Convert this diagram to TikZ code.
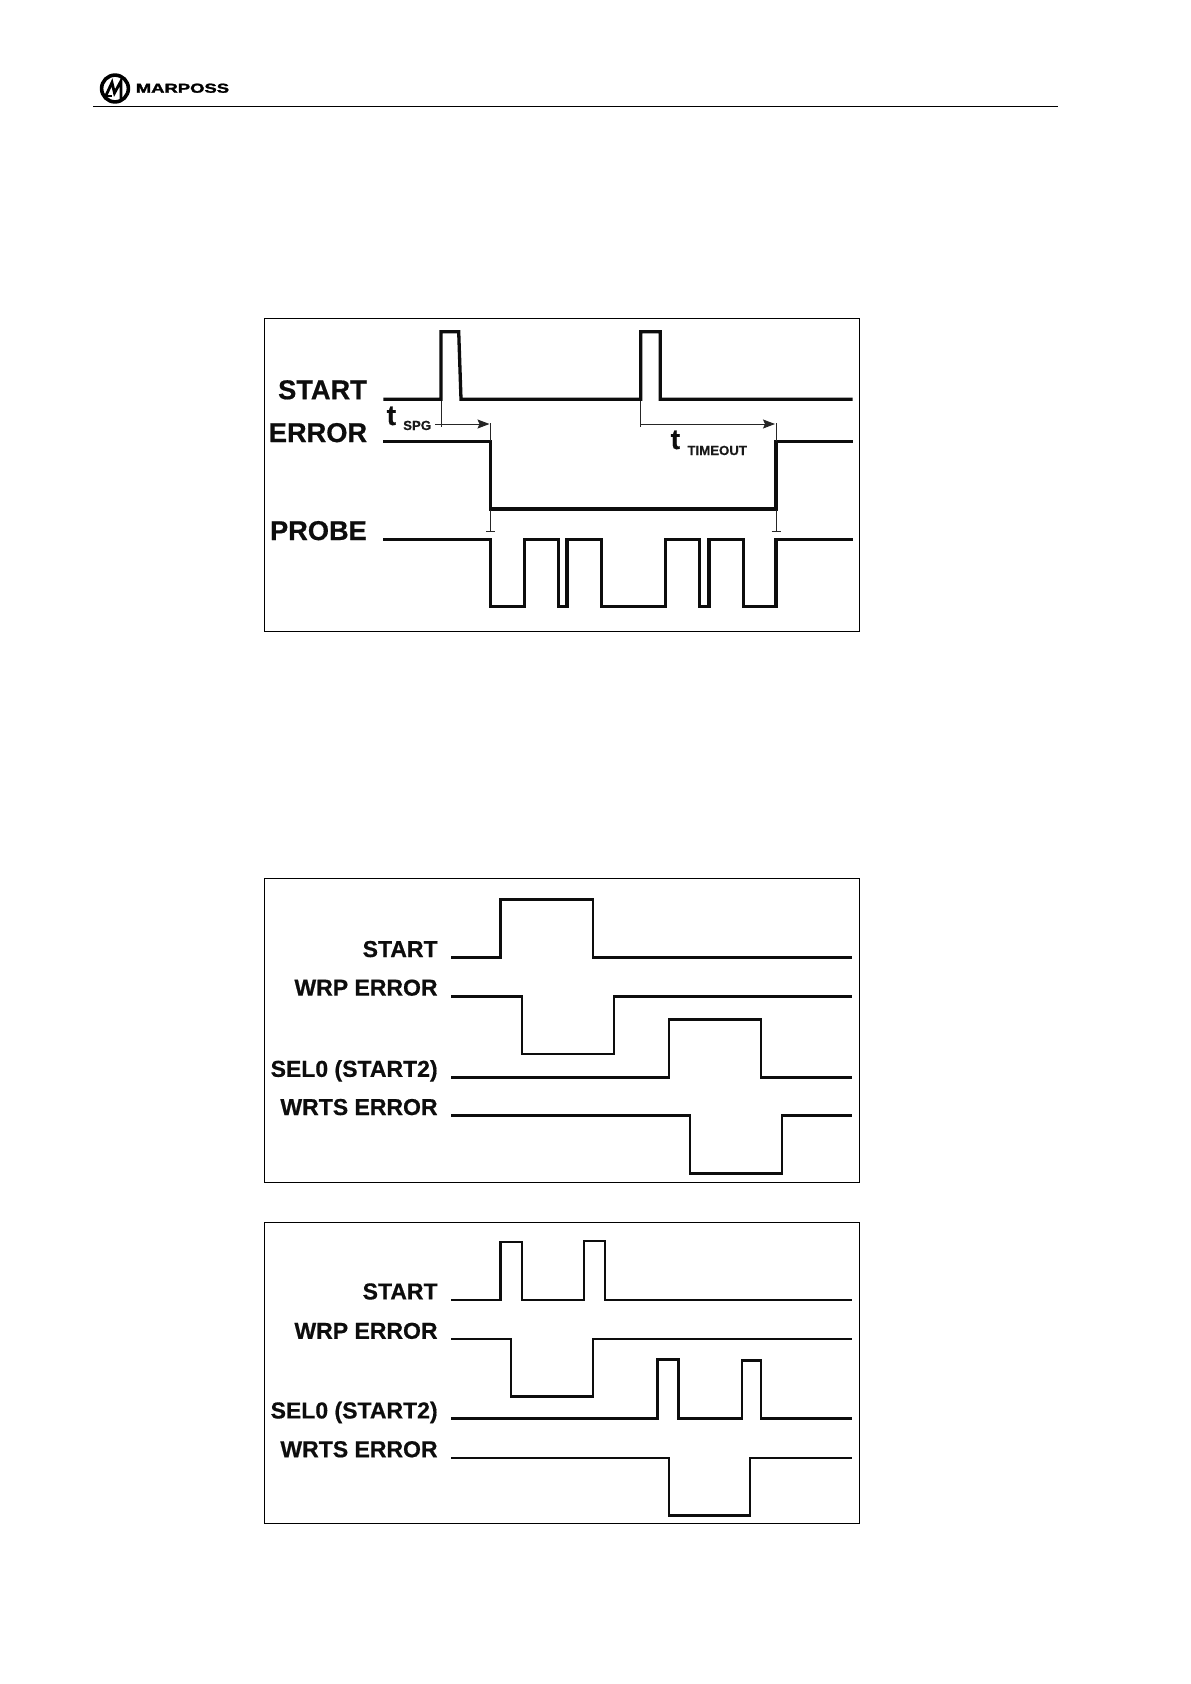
\documentclass[tikz,border=0pt]{standalone}
\usepackage{fontspec}
\setmainfont[BoldFeatures={FakeBold=0.6}]{Liberation Sans}
\newfontfamily\logofont[BoldFeatures={FakeBold=1.6}]{Liberation Sans}
\usetikzlibrary{arrows.meta}
\tikzset{
  panel/.style={draw=black,line width=1.3pt,fill=white},
  thicksig/.style={line width=3.3pt,line join=miter,color=black!95},
  sig/.style={line width=2.6pt,line join=miter,color=black!95},
  dim/.style={line width=1pt,color=black!85},
  dimarrow/.style={dim,-{Stealth[length=12pt,width=9pt,inset=2pt]}},
  biglabel/.style={anchor=base east,inner sep=0pt,font=\fontsize{27.2}{30}\selectfont\bfseries,color=black!95},
  siglabel/.style={anchor=base east,inner sep=0pt,font=\fontsize{23}{26}\selectfont\bfseries,color=black!95},
  tlabel/.style={anchor=base west,inner sep=0pt,font=\fontsize{28}{30}\selectfont\bfseries,color=black!95},
  sublabel/.style={anchor=base west,inner sep=0pt,font=\fontsize{13.2}{15}\selectfont\bfseries,color=black!90},
  logotext/.style={anchor=base west,inner sep=0pt,xscale=1.42,font=\logofont\fontsize{13}{15}\selectfont\bfseries}
}
\begin{document}
\begin{tikzpicture}[x=1pt,y=-1pt]
\useasboundingbox (0,0) rectangle (1191,1684);
\fill[white] (0,0) rectangle (1191,1684);
% header
\draw[line width=1.2pt] (93,106.3) -- (1058,106.3);
\draw[line width=3.6pt] (115,88.5) circle (13.4);
\draw[line width=2.8pt,line join=miter] (106,95.5) -- (112,82.5) -- (114.5,93) -- (121,81) -- (121,101);
\fill (105,94.5) rectangle (112,96.5);
\node[logotext] (logo) at (135.5,92.7) {MARPOSS};
% panel 1
\draw[panel] (264.4,318.3) rectangle (859.7,631.3);
\node[biglabel] (a1) at (367,399.2) {START};
\node[biglabel] (a2) at (367.3,442) {ERROR};
\node[biglabel] (a3) at (367,540) {PROBE};
\draw[thicksig] (383.3,399.3) -- (441,399.3) -- (441,331.7) -- (458.7,331.7) -- (461,399.3) -- (640.7,399.3) -- (640.7,331.7) -- (660.3,331.7) -- (660.3,399.3) -- (852.7,399.3);
\draw[thicksig] (383.3,441.7) -- (490.7,441.7) -- (490.7,509) -- (776,509) -- (776,441.7) -- (852.7,441.7);
\draw[thicksig] (383.3,539.3) -- (490.7,539.3) -- (490.7,606.7) -- (524.3,606.7) -- (524.3,539.3) -- (558.7,539.3) -- (558.7,606.7) -- (567,606.7) -- (567,539.3) -- (601.3,539.3) -- (601.3,606.7) -- (665.7,606.7) -- (665.7,539.3) -- (699.7,539.3) -- (699.7,606.7) -- (709,606.7) -- (709,539.3) -- (743.3,539.3) -- (743.3,606.7) -- (776,606.7) -- (776,539.3) -- (852.7,539.3);
% dimension lines
\coordinate (s1) at (441,401);
\coordinate (s1b) at (441,427);
\coordinate (s1a) at (435.3,424);
\coordinate (e1) at (489.5,424);
\coordinate (e1t) at (490.7,423);
\coordinate (e1b) at (490.7,441);
\coordinate (l1t) at (490.7,510);
\coordinate (l1b) at (490.7,531.7);
\coordinate (s2) at (640.7,401);
\coordinate (s2b) at (640.7,427);
\coordinate (e2) at (775,424);
\coordinate (e2t) at (776,423);
\coordinate (e2b) at (776,441);
\coordinate (l2t) at (776,510);
\coordinate (l2b) at (776,531.7);
\draw[dim] (s1) -- (s1b);
\draw[dimarrow] (s1a) -- (e1);
\draw[dim] (e1t) -- (e1b);
\draw[dim] (l1t) -- (l1b);
\draw[dim] ([xshift=-4.5pt]l1b) -- ([xshift=4.5pt]l1b);
\draw[dim] (s2) -- (s2b);
\draw[dimarrow] (s2b |- s1a) -- (e2);
\draw[dim] (e2t) -- (e2b);
\draw[dim] (l2t) -- (l2b);
\draw[dim] ([xshift=-4.5pt]l2b) -- ([xshift=4.5pt]l2b);
\node[tlabel] (t1) at (386.5,425) {t};
\node[sublabel] (t1s) at (403,430) {SPG};
\node[tlabel] (t2) at (670.5,449) {t};
\node[sublabel] (t2s) at (687.3,455) {TIMEOUT};
% panel 2
\draw[panel] (264.4,878.3) rectangle (859.7,1182.3);
\node[siglabel] (b1) at (437.8,957) {START};
\node[siglabel] (b2) at (437.8,995.6) {WRP ERROR};
\node[siglabel] (b3) at (437.8,1076.8) {SEL0 (START2)};
\node[siglabel] (b4) at (437.8,1115) {WRTS ERROR};
\draw[sig] (451.4,957.3) -- (500.5,957.3) -- (500.5,899.3) -- (593,899.3) -- (593,957.3) -- (851.8,957.3);
\draw[sig] (451.4,996.3) -- (521.8,996.3) -- (521.8,1054) -- (613.9,1054) -- (613.9,996.3) -- (851.8,996.3);
\draw[sig] (451.4,1077.3) -- (668.8,1077.3) -- (668.8,1019.7) -- (761,1019.7) -- (761,1077.3) -- (851.8,1077.3);
\draw[sig] (451.4,1115.7) -- (689.8,1115.7) -- (689.8,1173.7) -- (781.9,1173.7) -- (781.9,1115.7) -- (851.8,1115.7);
% panel 3
\draw[panel] (264.4,1222.3) rectangle (859.7,1523.3);
\node[siglabel] (c1) at (437.8,1299.4) {START};
\node[siglabel] (c2) at (437.8,1338.8) {WRP ERROR};
\node[siglabel] (c3) at (437.8,1418.4) {SEL0 (START2)};
\node[siglabel] (c4) at (437.8,1457.2) {WRTS ERROR};
\draw[sig] (451.4,1300) -- (500.5,1300) -- (500.5,1242) -- (521.8,1242) -- (521.8,1300) -- (583.9,1300) -- (583.9,1241) -- (604.8,1241) -- (604.8,1300) -- (851.8,1300);
\draw[sig] (451.4,1339) -- (511.1,1339) -- (511.1,1396.7) -- (593,1396.7) -- (593,1339) -- (851.8,1339);
\draw[sig] (451.4,1418.7) -- (657.4,1418.7) -- (657.4,1359.3) -- (678.3,1359.3) -- (678.3,1418.7) -- (742,1418.7) -- (742,1360.7) -- (761,1360.7) -- (761,1418.7) -- (851.8,1418.7);
\draw[sig] (451.4,1458) -- (668.8,1458) -- (668.8,1515.7) -- (749.9,1515.7) -- (749.9,1458) -- (851.8,1458);
\end{tikzpicture}
\end{document}
